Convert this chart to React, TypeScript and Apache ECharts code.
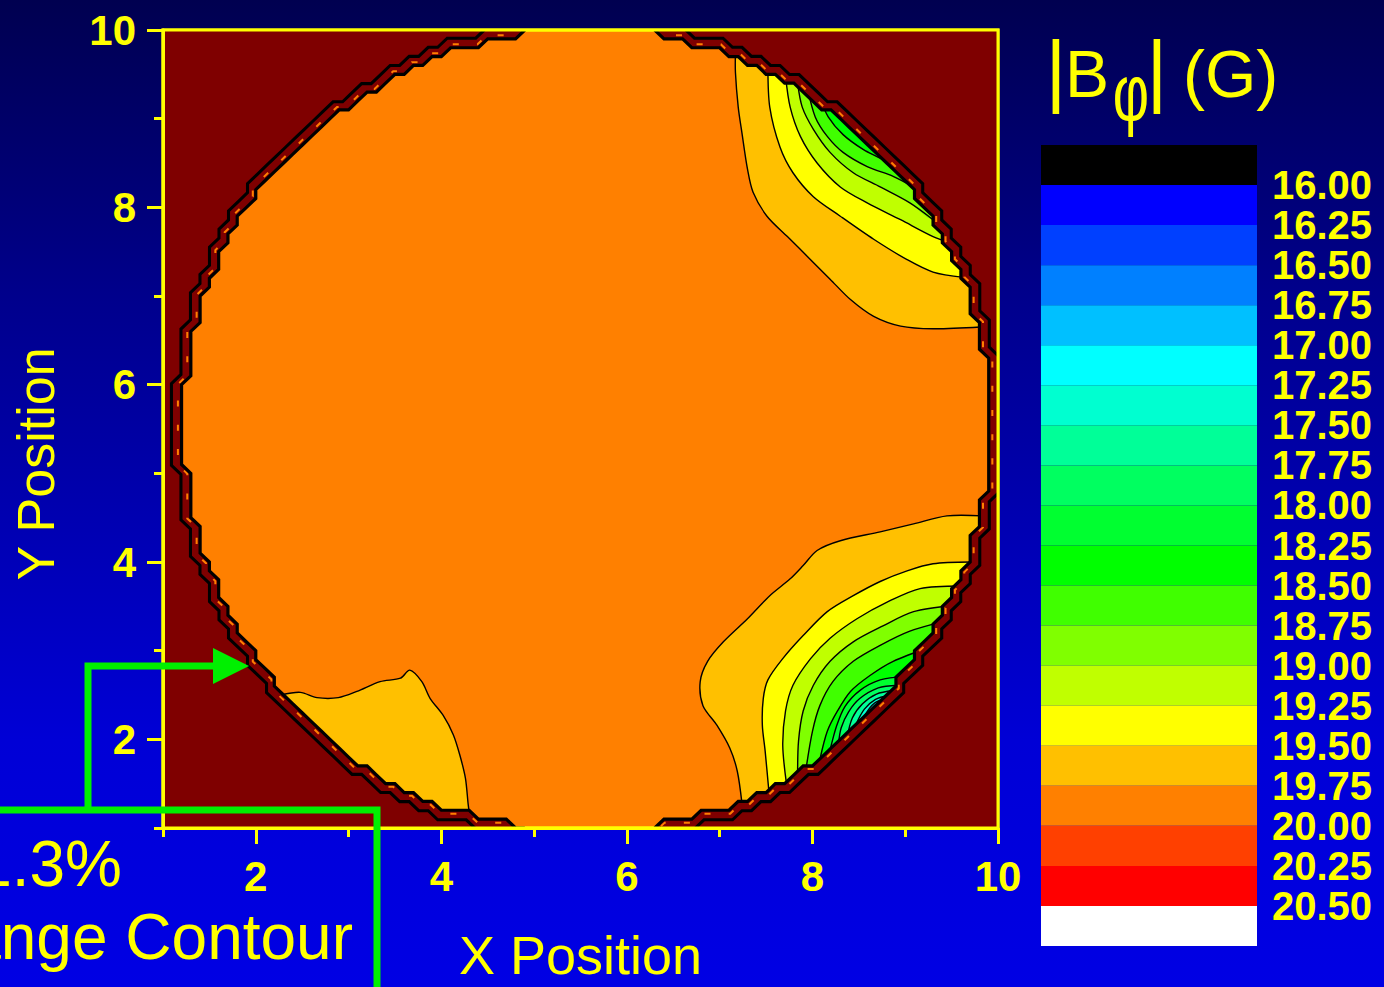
import React, { useEffect, useRef } from "react";
import * as echarts from "echarts";

const FONT = "'Liberation Sans', Arial, Helvetica, sans-serif";
const YELLOW = "#ffff00";
const GREEN = "#00f000";
const OUTSIDE = "#7f0000";

const xMajorTicks = [2, 4, 6, 8, 10];
const xMinorTicks = [1, 3, 5, 7, 9];
const yMajorTicks = [2, 4, 6, 8, 10];
const yMinorTicks = [1, 3, 5, 7, 9];

const levelLabels = [
  "16.00", "16.25", "16.50", "16.75", "17.00", "17.25", "17.50", "17.75", "18.00", "18.25",
  "18.50", "18.75", "19.00", "19.25", "19.50", "19.75", "20.00", "20.25", "20.50",
];
const bandColors = [
  "#000000", "#0000ff", "#0040ff", "#0080ff", "#00c0ff", "#00ffff", "#00ffd0", "#00ff98", "#00ff60", "#00ff30",
  "#00ff00", "#40ff00", "#80ff00", "#c0ff00", "#ffff00", "#ffc000", "#ff8000", "#ff4000", "#ff0000", "#ffffff",
];

// measured region (disc) boundary, data coordinates
const discCenter = [5.56, 5.5];
const discLeft = [
  [4.88, 10.0], [4.81, 9.93], [4.07, 9.77], [3.38, 9.44], [2.76, 8.98], [2.22, 8.42], [1.79, 7.77], [1.47, 7.05],
  [1.27, 6.29], [1.21, 5.5], [1.27, 4.71], [1.47, 3.95], [1.79, 3.23], [2.22, 2.58], [2.76, 2.02], [3.38, 1.57],
  [4.07, 1.23], [4.81, 1.07], [4.88, 1.0],
];
const discRight = [
  [6.25, 10.0], [6.32, 9.93], [7.05, 9.77], [7.74, 9.44], [8.36, 8.98], [8.9, 8.42], [9.33, 7.77], [9.65, 7.05],
  [9.85, 6.29], [9.92, 5.5], [9.85, 4.71], [9.65, 3.95], [9.33, 3.23], [8.9, 2.58], [8.36, 2.02], [7.74, 1.57],
  [7.05, 1.23], [6.32, 1.07], [6.25, 1.0],
];
// the field was sampled on a 0.1-unit mesh: the boundary is drawn on that mesh
const meshStep = 0.1;

// upper-right corner contours
const ur1975 = [[7.17, 9.76], [7.17, 9.52], [7.2, 9.13], [7.24, 8.84], [7.3, 8.43], [7.36, 8.17], [7.51, 7.9], [7.73, 7.67], [7.98, 7.41], [8.19, 7.19], [8.41, 6.96], [8.66, 6.77], [8.95, 6.66], [9.3, 6.63], [9.81, 6.65]];
const ur1975Out = [[10, 6.65], [10, 10], [7.17, 10]];
const ur1950 = [[7.52, 9.58], [7.54, 9.13], [7.65, 8.68], [7.79, 8.39], [8.01, 8.12], [8.3, 7.9], [8.66, 7.64], [9.02, 7.41], [9.3, 7.27], [9.63, 7.21]];
const ur1950Out = [[10, 7.21], [10, 10], [7.52, 10]];
const ur1925 = [[7.71, 9.48], [7.76, 9.13], [7.87, 8.8], [8.05, 8.5], [8.3, 8.23], [8.59, 8.05], [8.95, 7.86], [9.3, 7.67], [9.49, 7.6]];
const ur1925Out = [[10, 7.6], [10, 10], [7.71, 10]];
const ur1900 = [[7.84, 9.4], [7.89, 9.13], [8.01, 8.88], [8.19, 8.62], [8.44, 8.39], [8.73, 8.23], [9.05, 8.05], [9.3, 7.86]];
const ur1900Out = [[10, 7.86], [10, 10], [7.84, 10]];
const ur1875 = [[7.95, 9.33], [8.03, 9.02], [8.16, 8.8], [8.33, 8.62], [8.59, 8.46], [8.87, 8.35], [9.09, 8.23]];
const ur1875Out = [[10, 8.23], [10, 10], [7.95, 10]];
const ur1850 = [[8.08, 9.24], [8.17, 9.02], [8.33, 8.82], [8.55, 8.65], [8.75, 8.54], [8.95, 8.39]];
const ur1850Out = [[10, 8.39], [10, 10], [8.08, 10]];
const ur1825 = [[8.51, 8.79], [8.68, 8.7], [8.7, 8.62]];
const ur1825Out = [[9.1, 9.0], [8.9, 9.2]];

// lower-right corner contours
const lr1975 = [[9.84, 4.52], [9.45, 4.52], [9.09, 4.43], [8.73, 4.34], [8.3, 4.24], [8.05, 4.13], [7.9, 3.96], [7.76, 3.81], [7.54, 3.62], [7.3, 3.36], [7.04, 3.1], [6.87, 2.88], [6.79, 2.65], [6.82, 2.38], [6.97, 2.16], [7.11, 1.9], [7.19, 1.64], [7.24, 1.28]];
const lr1975Out = [[7.24, 1], [10, 1], [10, 4.52]];
const lr1950 = [[9.7, 4.0], [9.3, 3.98], [9.02, 3.9], [8.73, 3.78], [8.44, 3.62], [8.16, 3.44], [7.9, 3.17], [7.68, 2.91], [7.52, 2.67], [7.47, 2.46], [7.46, 2.16], [7.49, 1.87], [7.53, 1.42]];
const lr1950Out = [[7.53, 1], [10, 1], [10, 4.0]];
const lr1925 = [[9.6, 3.73], [9.16, 3.7], [8.81, 3.55], [8.48, 3.36], [8.19, 3.14], [7.98, 2.91], [7.79, 2.61], [7.71, 2.32], [7.68, 1.93], [7.72, 1.5]];
const lr1925Out = [[7.72, 1], [10, 1], [10, 3.73]];
const lr1900 = [[9.51, 3.51], [9.09, 3.44], [8.76, 3.28], [8.44, 3.1], [8.19, 2.88], [8.01, 2.61], [7.9, 2.32], [7.85, 1.98], [7.84, 1.6]];
const lr1900Out = [[7.84, 1], [10, 1], [10, 3.51]];
const lr1875 = [[9.42, 3.33], [9.05, 3.22], [8.73, 3.06], [8.44, 2.88], [8.22, 2.65], [8.08, 2.38], [8.0, 2.09], [7.93, 1.66]];
const lr1875Out = [[7.93, 1], [10, 1], [10, 3.33]];
const lr1850 = [[9.25, 3.03], [8.87, 2.88], [8.62, 2.72], [8.41, 2.54], [8.27, 2.32], [8.16, 2.09], [8.08, 1.77]];
const lr1850Out = [[8.08, 1], [10, 1], [10, 3.03]];
const lr1825 = [[9.0, 2.71], [8.73, 2.67], [8.51, 2.55], [8.35, 2.37], [8.26, 2.15], [8.19, 1.88]];
const lr1825Out = [[8.59, 1.48], [9.4, 2.31]];
const lr1800 = [[8.92, 2.61], [8.71, 2.58], [8.51, 2.46], [8.39, 2.31], [8.31, 2.13], [8.28, 1.95]];
const lr1800Out = [[8.68, 1.55], [9.32, 2.21]];
const lr1775 = [[8.87, 2.55], [8.69, 2.51], [8.54, 2.4], [8.43, 2.24], [8.37, 2.01]];
const lr1775Out = [[8.77, 1.61], [9.27, 2.15]];
const lr1750 = [[8.83, 2.5], [8.68, 2.45], [8.56, 2.34], [8.47, 2.17], [8.45, 2.09]];
const lr1750Out = [[8.85, 1.69], [9.23, 2.1]];
const lr1725 = [[8.8, 2.46], [8.67, 2.41], [8.57, 2.28], [8.53, 2.16]];
const lr1725Out = [[8.93, 1.76], [9.2, 2.06]];
const lr1700 = [[8.77, 2.43], [8.67, 2.37], [8.6, 2.27], [8.59, 2.23]];
const lr1700Out = [[8.99, 1.83], [9.17, 2.03]];
const lr1675 = [[8.75, 2.41], [8.69, 2.35], [8.66, 2.31]];
const lr1675Out = [[9.06, 1.91], [9.15, 2.01]];

// lower-left corner contour
const ll1975 = [[2.27, 2.5], [2.48, 2.53], [2.66, 2.47], [2.89, 2.47], [3.09, 2.54], [3.34, 2.65], [3.56, 2.69], [3.66, 2.78], [3.79, 2.65], [3.88, 2.46], [4.02, 2.27], [4.13, 2.05], [4.2, 1.82], [4.26, 1.56], [4.29, 1.26], [4.31, 1.11]];
const ll1975Out = [[4.31, 1], [1, 1], [1, 2.5]];

const contours = [
  { line: ur1975, out: ur1975Out, band: 15 },
  { line: ur1950, out: ur1950Out, band: 14 },
  { line: ur1925, out: ur1925Out, band: 13 },
  { line: ur1900, out: ur1900Out, band: 12 },
  { line: ur1875, out: ur1875Out, band: 11 },
  { line: ur1850, out: ur1850Out, band: 10 },
  { line: ur1825, out: ur1825Out, band: 9 },
  { line: lr1975, out: lr1975Out, band: 15 },
  { line: lr1950, out: lr1950Out, band: 14 },
  { line: lr1925, out: lr1925Out, band: 13 },
  { line: lr1900, out: lr1900Out, band: 12 },
  { line: lr1875, out: lr1875Out, band: 11 },
  { line: lr1850, out: lr1850Out, band: 10 },
  { line: lr1825, out: lr1825Out, band: 9 },
  { line: lr1800, out: lr1800Out, band: 8 },
  { line: lr1775, out: lr1775Out, band: 7 },
  { line: lr1750, out: lr1750Out, band: 6 },
  { line: lr1725, out: lr1725Out, band: 5 },
  { line: lr1700, out: lr1700Out, band: 4 },
  { line: lr1675, out: lr1675Out, band: 3 },
  { line: ll1975, out: ll1975Out, band: 15 },
];

// draw a boundary on the sampling mesh (visual style of the original plot):
// snap to mesh nodes, and cut L-shaped corners into diagonals
function onMesh(pts: number[][]) {
  const snapped: number[][] = [];
  for (let i = 0; i < pts.length - 1; i++) {
    const [x0, y0] = pts[i];
    const [x1, y1] = pts[i + 1];
    const n = Math.max(1, Math.ceil(Math.hypot(x1 - x0, y1 - y0) / 0.01));
    for (let k = 0; k <= n; k++) {
      const x = x0 + ((x1 - x0) * k) / n;
      const y = y0 + ((y1 - y0) * k) / n;
      const sx = Math.round(x / meshStep);
      const sy = Math.round(y / meshStep);
      const last = snapped[snapped.length - 1];
      if (!last || last[0] !== sx || last[1] !== sy) snapped.push([sx, sy]);
    }
  }
  const out: number[][] = [];
  let lastWasCut = false;
  for (const p of snapped) {
    const n = out.length;
    if (n >= 2 && !lastWasCut) {
      const a = out[n - 2];
      const b = out[n - 1];
      const m1 = [b[0] - a[0], b[1] - a[1]];
      const m2 = [p[0] - b[0], p[1] - b[1]];
      const ortho1 = Math.abs(m1[0]) + Math.abs(m1[1]) === 1;
      const ortho2 = Math.abs(m2[0]) + Math.abs(m2[1]) === 1;
      if (ortho1 && ortho2 && m1[0] !== m2[0] && m1[1] !== m2[1]) {
        out[n - 1] = p;
        lastWasCut = true;
        continue;
      }
    }
    out.push(p);
    lastWasCut = false;
  }
  return out.map(([sx, sy]) => [sx * meshStep, sy * meshStep]);
}

function renderPlot(_params: any, api: any) {
  const px = (pts: number[][]) => pts.map((p) => api.coord(p));
  const children: any[] = [];
  for (const c of contours) {
    children.push({
      type: "polygon",
      shape: { points: px([...c.line, ...c.out]), smooth: 0.3 },
      style: { fill: bandColors[c.band] },
    });
  }
  for (const c of contours) {
    children.push({
      type: "polyline",
      shape: { points: px(c.line), smooth: 0.3 },
      style: { fill: "none", stroke: "#000000", lineWidth: 1.4 },
    });
  }
  const left = onMesh(discLeft);
  const right = onMesh(discRight);
  children.push({ type: "polygon", shape: { points: px([...left, [1, 1], [1, 10]]) }, style: { fill: OUTSIDE } });
  children.push({ type: "polygon", shape: { points: px([...right, [10, 1], [10, 10]]) }, style: { fill: OUTSIDE } });
  const c = api.coord(discCenter);
  const ring = (scale: number, style: any) =>
    [left, right].map((side) => ({
      type: "polyline",
      originX: c[0],
      originY: c[1],
      scaleX: scale,
      scaleY: scale,
      shape: { points: px(side) },
      style,
    }));
  children.push(...ring(1.009, { fill: "none", stroke: "#ff8000", lineWidth: 2, lineDash: [6, 18] }));
  children.push(...ring(1.025, { fill: "none", stroke: "#000000", lineWidth: 3 }));
  children.push(...ring(1, { fill: "none", stroke: "#000000", lineWidth: 3.2 }));
  return { type: "group", children };
}

function renderFrame(_params: any, api: any) {
  const a = api.coord([1, 10]);
  const b = api.coord([10, 1]);
  return {
    type: "rect",
    shape: { x: a[0], y: a[1], width: b[0] - a[0], height: b[1] - a[1] },
    style: { fill: "none", stroke: YELLOW, lineWidth: 3 },
  };
}

function renderBand(_params: any, api: any) {
  const i = api.value(1);
  const p0 = api.coord([0, i]);
  const p1 = api.coord([1, i + 1]);
  return {
    type: "rect",
    shape: { x: p0[0], y: Math.min(p0[1], p1[1]), width: p1[0] - p0[0], height: Math.abs(p1[1] - p0[1]) },
    style: { fill: bandColors[i] },
  };
}

const tickLabel = { color: YELLOW, fontSize: 42, fontWeight: "bold", fontFamily: FONT };

function txt(text: string, x: number, y: number, size: number, align: string, extra: any = {}) {
  return {
    type: "text",
    x,
    y,
    z: 100,
    ...extra,
    style: {
      text,
      fill: YELLOW,
      fontSize: size,
      fontFamily: FONT,
      fontWeight: "normal",
      align,
      textAlign: align,
      verticalAlign: "middle",
      textVerticalAlign: "middle",
    },
  };
}

export default function App() {
  const ref = useRef<HTMLDivElement>(null);
  useEffect(() => {
    if (!ref.current) return;
    const chart = echarts.init(ref.current, null, { renderer: "svg" });
    const option: any = {
      animation: false,
      backgroundColor: "transparent",
      grid: [
        { left: 163, top: 30, width: 835, height: 800, show: true, backgroundColor: "#ff8000", borderColor: YELLOW, borderWidth: 3 },
        { left: 1041, top: 145, width: 216, height: 801, show: false },
      ],
      xAxis: [
        {
          gridIndex: 0, type: "value", min: 1, max: 10, position: "bottom", z: 5,
          axisLine: { show: true, lineStyle: { color: YELLOW, width: 3 } },
          axisTick: { show: true, customValues: xMajorTicks, length: 16, lineStyle: { color: YELLOW, width: 3 } },
          axisLabel: { ...tickLabel, customValues: xMajorTicks, margin: 27 },
          splitLine: { show: false },
          name: "X Position", nameLocation: "middle", nameGap: 100,
          nameTextStyle: { color: YELLOW, fontSize: 54, fontFamily: FONT },
        },
        {
          gridIndex: 0, type: "value", min: 1, max: 10, position: "bottom", z: 5,
          axisLine: { show: false },
          axisTick: { show: true, customValues: xMinorTicks, length: 9, lineStyle: { color: YELLOW, width: 3 } },
          axisLabel: { show: false }, splitLine: { show: false },
        },
        { gridIndex: 1, type: "value", min: 0, max: 1, show: false },
      ],
      yAxis: [
        {
          gridIndex: 0, type: "value", min: 1, max: 10, position: "left", z: 5,
          axisLine: { show: true, lineStyle: { color: YELLOW, width: 3 } },
          axisTick: { show: true, customValues: yMajorTicks, length: 16, lineStyle: { color: YELLOW, width: 3 } },
          axisLabel: { ...tickLabel, customValues: yMajorTicks, margin: 27 },
          splitLine: { show: false },
        },
        {
          gridIndex: 0, type: "value", min: 1, max: 10, position: "left", z: 5,
          axisLine: { show: false },
          axisTick: { show: true, customValues: yMinorTicks, length: 9, lineStyle: { color: YELLOW, width: 3 } },
          axisLabel: { show: false }, splitLine: { show: false },
        },
        {
          gridIndex: 1, type: "value", min: 0, max: 20, interval: 1, inverse: true, position: "right",
          axisLine: { show: false }, axisTick: { show: false }, splitLine: { show: false },
          axisLabel: {
            color: YELLOW, fontSize: 40, fontWeight: "bold", fontFamily: FONT, margin: 15,
            lineHeight: 34, padding: [10, 0, 0, 0],
            formatter: (v: number) => (v >= 1 && v <= levelLabels.length ? levelLabels[v - 1] : ""),
          },
        },
      ],
      series: [
        { type: "custom", name: "field", xAxisIndex: 0, yAxisIndex: 0, clip: true, z: 2, silent: true, data: [[5.5, 5.5]], renderItem: renderPlot },
        { type: "custom", name: "frame", xAxisIndex: 0, yAxisIndex: 0, clip: false, z: 6, silent: true, data: [[5.5, 5.5]], renderItem: renderFrame },
        { type: "custom", name: "colorbar", xAxisIndex: 2, yAxisIndex: 2, silent: true, data: bandColors.map((_c, i) => [0.5, i]), renderItem: renderBand },
      ],
      graphic: [
        txt("Y Position", 36, 464, 52, "center", { rotation: Math.PI / 2 }),
        txt("|", 1056, 69, 80, "center"),
        txt("B", 1065, 74, 66, "left"),
        txt("φ", 1131, 92, 80, "center", { scaleX: 0.7 }),
        txt("|", 1157, 69, 80, "center"),
        txt("(G)", 1183, 74, 66, "left"),
        {
          type: "rect", z: 100,
          shape: { x: -20, y: 810, width: 397, height: 220 },
          style: { fill: "none", stroke: GREEN, lineWidth: 7 },
        },
        {
          type: "polyline", z: 100,
          shape: { points: [[88, 812], [88, 666], [218, 666]] },
          style: { fill: "none", stroke: GREEN, lineWidth: 7 },
        },
        {
          type: "polygon", z: 100,
          shape: { points: [[213, 648], [213, 684], [249, 666]] },
          style: { fill: GREEN },
        },
        txt("±1.3%", 122, 864, 64, "right"),
        txt("Range Contour", 353, 937, 64, "right"),
      ],
    };
    chart.setOption(option);
    return () => chart.dispose();
  }, []);
  return (
    <div
      ref={ref}
      style={{
        position: "absolute",
        left: 0,
        top: 0,
        width: 1384,
        height: 987,
        background: "linear-gradient(to bottom, #000050 0%, #00008c 30%, #0000d6 75%, #0000e4 100%)",
      }}
    />
  );
}
